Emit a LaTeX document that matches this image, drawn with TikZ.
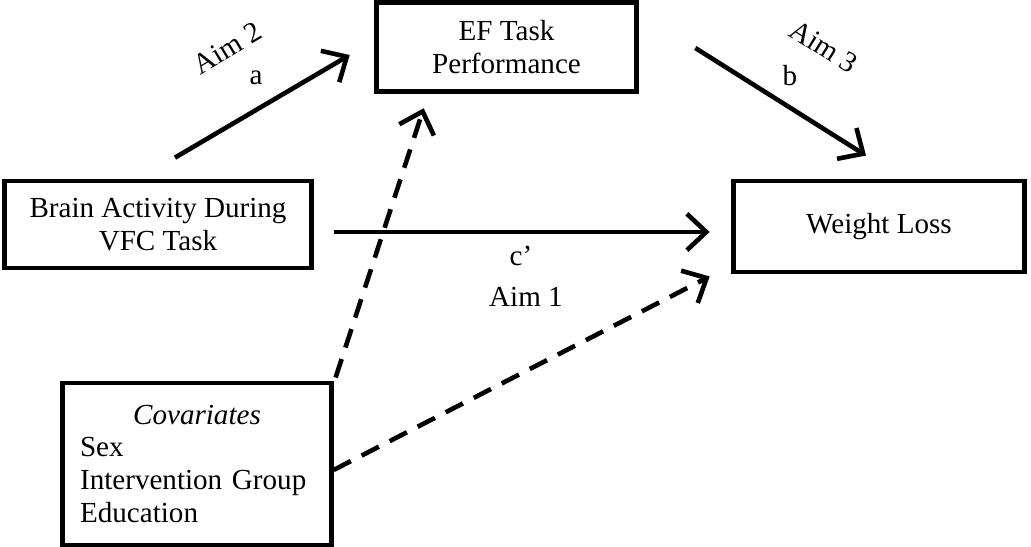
\documentclass[tikz,border=0pt]{standalone}
\usepackage{fontspec}
\setmainfont{Liberation Serif}
\usetikzlibrary{arrows.meta,calc}
\tikzset{
  varbox/.style={rectangle, draw=black, line width=2pt, align=center,
    font=\fontsize{12}{13.4}\selectfont, inner sep=2pt},
  covbox/.style={varbox, align=left, text width=3.39cm,
    font=\fontsize{12}{13.6}\selectfont},
  patharrow/.style={-{Straight Barb[length=8pt,width=15pt]}, line width=1.9pt},
  covarrow/.style={patharrow, dash pattern=on 8pt off 5pt},
  aimlab/.style={font=\fontsize{12}{14}\selectfont, inner sep=1pt}
}

\begin{document}
\begin{tikzpicture}[x=0.0145cm, y=-0.0145cm]
  \useasboundingbox (0,0) rectangle (1031,547);

  % ============ Variables ============
  \node[varbox, minimum width=3.78cm, minimum height=1.30cm] (ef)     at (506.5, 47)   {EF Task\\Performance};
  \node[varbox, minimum width=4.44cm, minimum height=1.26cm] (brain)  at (158,   224.5) {Brain Activity During\\VFC Task};
  \node[varbox, minimum width=4.23cm, minimum height=1.32cm] (weight) at (879,   226.5) {Weight Loss};
  \node[covbox, minimum width=3.89cm, minimum height=2.35cm] (covar)  at (197,   464)
    {\makebox[\linewidth][c]{\textit{Covariates}}\\Sex\\Intervention Group\\Education};

  % ============ Paths (solid) ============
  \draw[patharrow] ($(brain.north)+(17,-21)$) -- ($(ef.west)+(-24,8)$);
  \draw[patharrow] ($(ef.east)+(56,1)$) -- ($(weight.north)+(-13,-23)$);
  \draw[patharrow] ($(brain.east)+(20,7.5)$) -- ($(weight.west)+(-21,5.5)$);

  % ============ Covariate paths (dashed) ============
  \draw[covarrow] ($(covar.north east)+(2,-3)$) -- ($(ef.south west)+(50,14)$);
  \draw[covarrow] ($(covar.east)+(0,6)$) -- ($(weight.south west)+(-21,2)$);

  % ============ Labels ============
  \node[aimlab, rotate=31]  (aim2) at (227, 48)  {Aim 2};
  \node[aimlab]             (lba)  at (256, 78)  {a};
  \node[aimlab, rotate=-32] (aim3) at (824, 47)  {Aim 3};
  \node[aimlab]             (lbb)  at (790, 76)  {b};
  \node[aimlab]             (lbc)  at (521, 256) {c’};
  \node[aimlab]             (aim1) at (526, 297) {Aim 1};

\end{tikzpicture}
\end{document}
